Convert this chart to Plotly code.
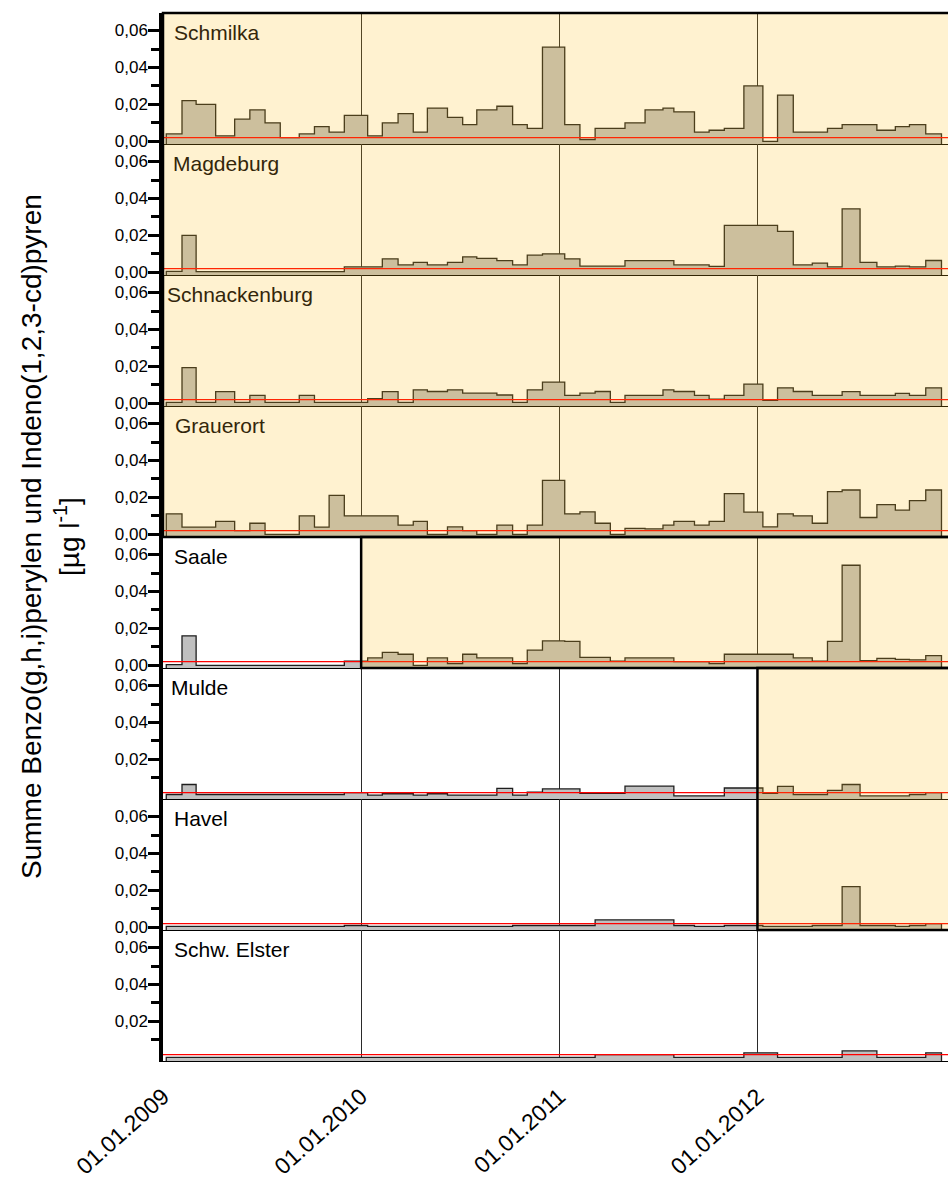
import plotly.graph_objects as go
from plotly.subplots import make_subplots

# ---------------- data ----------------
edges = [
    "2009-01-07", "2009-02-05", "2009-03-03", "2009-04-08", "2009-05-13", "2009-06-10",
    "2009-07-08", "2009-08-05", "2009-09-09", "2009-10-07", "2009-11-03", "2009-12-01",
    "2010-01-13", "2010-02-09", "2010-03-10", "2010-04-07", "2010-05-03", "2010-06-09",
    "2010-07-07", "2010-08-02", "2010-09-08", "2010-10-07", "2010-11-03", "2010-12-01",
    "2011-01-11", "2011-02-08", "2011-03-08", "2011-04-05", "2011-05-02", "2011-06-08",
    "2011-07-11", "2011-07-31", "2011-09-07", "2011-10-04", "2011-11-01", "2011-12-07",
    "2012-01-11", "2012-02-07", "2012-03-07", "2012-04-11", "2012-05-09", "2012-06-05",
    "2012-07-08", "2012-08-08", "2012-09-11", "2012-10-07", "2012-11-06", "2012-12-05",
]

stations = ["Schmilka", "Magdeburg", "Schnackenburg", "Grauerort",
            "Saale", "Mulde", "Havel", "Schw. Elster"]

schmilka = [0.004, 0.022, 0.020, 0.003, 0.012, 0.017, 0.010, 0.002, 0.004, 0.008, 0.005, 0.014,
            0.003, 0.010, 0.015, 0.005, 0.018, 0.013, 0.009, 0.017, 0.019, 0.009, 0.007, 0.051,
            0.009, 0.001, 0.007, 0.007, 0.010, 0.017, 0.018, 0.016, 0.005, 0.006, 0.007, 0.030,
            0.000, 0.025, 0.005, 0.005, 0.007, 0.009, 0.009, 0.006, 0.008, 0.009, 0.004]
magdeburg = [0.0005, 0.020, 0.0004, 0.0004, 0.0004, 0.0004, 0.0004, 0.0004, 0.0004, 0.0004, 0.0004, 0.003,
             0.003, 0.0073, 0.004, 0.0054, 0.004, 0.0054, 0.0084, 0.0075, 0.0063, 0.004, 0.0093, 0.010,
             0.0073, 0.0034, 0.0034, 0.0034, 0.0063, 0.0063, 0.0063, 0.004, 0.004, 0.0032, 0.0254, 0.0254,
             0.0254, 0.0222, 0.004, 0.005, 0.003, 0.0344, 0.0054, 0.0029, 0.0034, 0.003, 0.0064]
schnackenburg = [0.0005, 0.0193, 0.0005, 0.0063, 0.0005, 0.0043, 0.0005, 0.0005, 0.0043, 0.0005, 0.0005, 0.0005,
                 0.0025, 0.0063, 0.0005, 0.0073, 0.0064, 0.0073, 0.0055, 0.0055, 0.0045, 0.0005, 0.0073, 0.0115,
                 0.0043, 0.0055, 0.0064, 0.0005, 0.0043, 0.0043, 0.0073, 0.0064, 0.0043, 0.0023, 0.0043, 0.0104,
                 0.0016, 0.0084, 0.0064, 0.0043, 0.0043, 0.0063, 0.0043, 0.0043, 0.0054, 0.0043, 0.0084]
grauerort = [0.0111, 0.0039, 0.0039, 0.007, 0.002, 0.006, 0.0, 0.0, 0.010, 0.0039, 0.0211, 0.010,
             0.010, 0.010, 0.005, 0.007, 0.0, 0.004, 0.002, 0.0, 0.005, 0.0, 0.005, 0.0292,
             0.0111, 0.0122, 0.006, 0.0, 0.0032, 0.003, 0.005, 0.007, 0.005, 0.007, 0.022, 0.012,
             0.004, 0.0111, 0.010, 0.006, 0.0231, 0.024, 0.0091, 0.0161, 0.0131, 0.0183, 0.024]
saale = [0.0004, 0.016, 0.0, 0.0, 0.0, 0.0, 0.0, 0.0, 0.0, 0.0, 0.0, 0.0023,
         0.004, 0.007, 0.006, 0.0, 0.004, 0.001, 0.006, 0.004, 0.004, 0.001, 0.0082, 0.0132,
         0.013, 0.0043, 0.0043, 0.0023, 0.004, 0.004, 0.004, 0.002, 0.002, 0.001, 0.006, 0.006,
         0.006, 0.006, 0.004, 0.0023, 0.013, 0.0542, 0.0025, 0.0038, 0.0032, 0.003, 0.0052]
mulde = [0.001, 0.0064, 0.001, 0.001, 0.001, 0.001, 0.001, 0.001, 0.001, 0.001, 0.001, 0.002,
         0.0007, 0.0014, 0.0014, 0.0007, 0.0014, 0.0007, 0.0007, 0.0007, 0.0043, 0.0007, 0.0023, 0.004,
         0.004, 0.0016, 0.0016, 0.0016, 0.0055, 0.0055, 0.0055, 0.0002, 0.0002, 0.0002, 0.0045, 0.0045,
         0.0016, 0.0054, 0.001, 0.001, 0.0032, 0.0064, 0.0002, 0.0002, 0.0002, 0.001, 0.002]
havel = [0.0005, 0.0005, 0.0005, 0.0005, 0.0005, 0.0005, 0.0005, 0.0005, 0.0005, 0.0005, 0.0005, 0.001,
         0.0005, 0.0005, 0.0005, 0.0005, 0.0005, 0.0005, 0.0005, 0.0005, 0.0005, 0.001, 0.001, 0.001,
         0.001, 0.001, 0.004, 0.004, 0.004, 0.004, 0.004, 0.001, 0.0005, 0.0005, 0.001, 0.001,
         0.0005, 0.0005, 0.0005, 0.001, 0.001, 0.022, 0.001, 0.001, 0.0005, 0.001, 0.002]
schw_elster = [0.0005, 0.0005, 0.0005, 0.0005, 0.0005, 0.0005, 0.0005, 0.0005, 0.0005, 0.0005, 0.0005, 0.0005,
               0.0005, 0.0005, 0.0005, 0.0005, 0.0005, 0.0005, 0.0005, 0.0005, 0.0005, 0.0005, 0.0005, 0.0005,
               0.0005, 0.0005, 0.002, 0.002, 0.002, 0.002, 0.002, 0.0005, 0.0005, 0.0005, 0.0005, 0.003,
               0.003, 0.0005, 0.0005, 0.0005, 0.0005, 0.004, 0.004, 0.0005, 0.0005, 0.0005, 0.003]

series = [schmilka, magdeburg, schnackenburg, grauerort, saale, mulde, havel, schw_elster]

threshold = 0.002                         # red reference line
year_ticks = ["2009-01-01", "2010-01-01", "2011-01-01", "2012-01-01"]
year_labels = ["01.01.2009", "01.01.2010", "01.01.2011", "01.01.2012"]
y_tickvals_full = [0.0, 0.02, 0.04, 0.06]
y_ticktext_full = ["0,00", "0,02", "0,04", "0,06"]
y_tickvals_nozero = [0.02, 0.04, 0.06]
y_ticktext_nozero = ["0,02", "0,04", "0,06"]
# highlighted (yellow) periods
highlight_start = {"Saale": "2010-01-01", "Mulde": "2012-01-01", "Havel": "2012-01-01"}

# ---------------- layout constants ----------------
X_START, X_END = "2009-01-01", "2012-12-17"
X_BEYOND = "2013-02-01"
Y_MIN, Y_MAX = -0.00145, 0.0695
FONT = "Liberation Sans, Arial, sans-serif"
OVERLAY = "rgba(255,190,20,0.2)"

fig = make_subplots(rows=8, cols=1, shared_xaxes=True, vertical_spacing=0)

for i, (name, vals) in enumerate(zip(stations, series), start=1):
    xs = [edges[0]] + edges + [edges[-1]]
    ys = [Y_MIN] + vals + [vals[-1], Y_MIN]
    fig.add_trace(go.Scatter(
        x=xs, y=ys, mode="lines", line_shape="hv",
        line=dict(color="#1e1e1e", width=1.3),
        fill="toself", fillcolor="#C0C0C0",
        showlegend=False, hoverinfo="skip"), row=i, col=1)
    fig.add_trace(go.Scatter(
        x=[X_START, X_END], y=[threshold, threshold], mode="lines",
        line=dict(color="#FF0000", width=1.2),
        showlegend=False, hoverinfo="skip"), row=i, col=1)

    nozero = name in ("Mulde", "Schw. Elster")
    fig.update_yaxes(
        range=[Y_MIN, Y_MAX],
        tickvals=y_tickvals_nozero if nozero else y_tickvals_full,
        ticktext=y_ticktext_nozero if nozero else y_ticktext_full,
        ticks="outside", ticklen=11, tickwidth=2.5, tickcolor="black",
        minor=dict(tickvals=[0.01, 0.03, 0.05], ticks="outside", ticklen=8,
                   tickwidth=2.5, tickcolor="black", showgrid=False),
        showgrid=False, zeroline=False,
        showline=True, linecolor="black", linewidth=3.5,
        ticklabelstandoff=-3,
        tickfont=dict(family=FONT, size=17, color="black"),
        row=i, col=1)
    fig.update_xaxes(
        type="date", range=[X_START, X_END], tickvals=year_ticks, ticktext=year_labels,
        showgrid=True, gridcolor="#2a2a2a", gridwidth=1,
        showline=True, linecolor="black", linewidth=1,
        ticks="", showticklabels=(i == 8), zeroline=False,
        row=i, col=1)

fig.update_xaxes(tickangle=-42, tickfont=dict(family=FONT, size=23, color="black"),
                 ticklabelstandoff=12, row=8, col=1)

# ---------------- overlays ----------------
lay = fig.layout
shapes = []
shapes.append(dict(type="rect", xref="paper", yref="paper", x0=0, x1=1.02,
                   y0=lay.yaxis4.domain[0], y1=1, fillcolor=OVERLAY,
                   line=dict(color="black", width=2.5), layer="above"))
shapes.append(dict(type="rect", xref="x5", yref="paper", x0=highlight_start["Saale"], x1=X_BEYOND,
                   y0=lay.yaxis5.domain[0], y1=lay.yaxis5.domain[1], fillcolor=OVERLAY,
                   line=dict(color="black", width=2.5), layer="above"))
shapes.append(dict(type="rect", xref="x6", yref="paper", x0=highlight_start["Mulde"], x1=X_BEYOND,
                   y0=lay.yaxis7.domain[0], y1=lay.yaxis6.domain[1], fillcolor=OVERLAY,
                   line=dict(color="black", width=2.5), layer="above"))
fig.update_layout(shapes=shapes)

# ---------------- panel labels ----------------
label_x_px = [172, 171, 165, 173, 172, 169, 172, 172]
label_colors = ["#33260a"] * 4 + ["black"] * 4
plot_left, plot_w = 163, 785
for i, name in enumerate(stations, start=1):
    yax = getattr(lay, "yaxis" if i == 1 else f"yaxis{i}")
    fig.add_annotation(
        text=name, xref="paper", yref="paper",
        x=(label_x_px[i - 1] - plot_left) / plot_w, y=yax.domain[1] - 6 / 1048,
        xanchor="left", yanchor="top", showarrow=False,
        font=dict(family=FONT, size=21, color=label_colors[i - 1]))

# y axis title (two lines)
fig.add_annotation(text="Summe Benzo(g,h,i)perylen und Indeno(1,2,3-cd)pyren",
                   xref="paper", yref="paper", x=(31 - plot_left) / plot_w, y=0.5,
                   xanchor="center", yanchor="middle", textangle=-90, showarrow=False,
                   font=dict(family=FONT, size=28, color="black"))
fig.add_annotation(text="[µg l<sup>-1</sup>]",
                   xref="paper", yref="paper", x=(67 - plot_left) / plot_w, y=0.5,
                   xanchor="center", yanchor="middle", textangle=-90, showarrow=False,
                   font=dict(family=FONT, size=28, color="black"))

fig.update_layout(
    width=948, height=1187,
    margin=dict(l=163, r=0, t=13, b=126),
    paper_bgcolor="white", plot_bgcolor="white",
    separators=",.",
    font=dict(family=FONT, size=17, color="black"),
    showlegend=False,
)

fig.write_html("out.html")
